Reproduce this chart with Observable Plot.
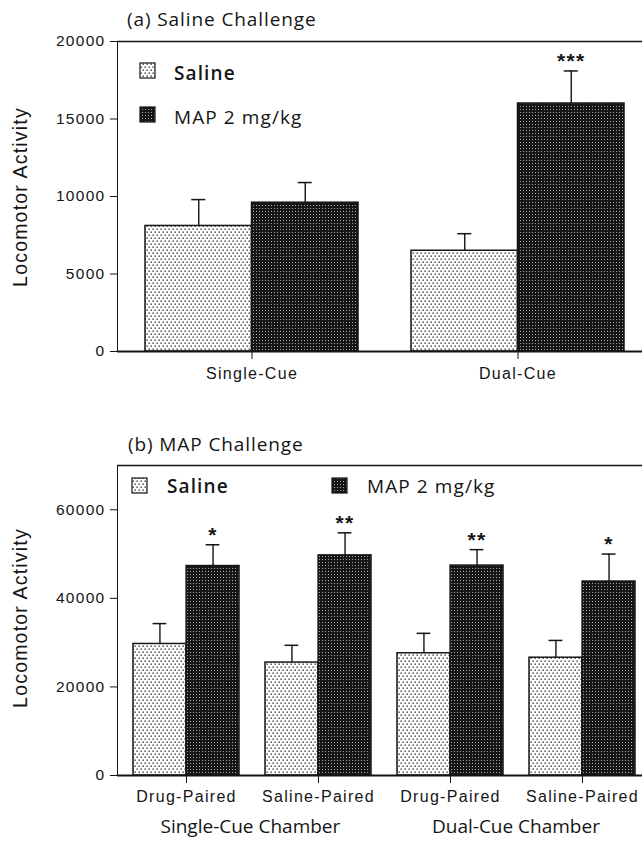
<!DOCTYPE html>
<html><head><meta charset="utf-8">
<script src="https://cdn.jsdelivr.net/npm/d3@7"></script>
<script src="https://cdn.jsdelivr.net/npm/@observablehq/plot@0.6"></script>
<style>
html,body{margin:0;padding:0;background:#fff;}
#wrap{position:relative;width:642px;height:845px;overflow:hidden;background:#fff;}
#wrap > svg{position:absolute;left:0;}
#wrap [aria-label^="x-axis"] text{font-size:16px;}
#wrap [aria-label^="y-axis"] text{font-size:15.5px;}
</style></head><body><div id="wrap"></div>
<script>
// ---------- Panel (a) Saline Challenge ----------
const aCategories = ["Single-Cue", "Dual-Cue"];
const aSaline = [8100, 6500];
const aSalineErr = [9800, 7600];
const aMap = [9600, 16000];
const aMapErr = [10900, 18100];
const aMapSig = ["", "***"];
const aTicks = [0, 5000, 10000, 15000, 20000];

// ---------- Panel (b) MAP Challenge ----------
const bKeys = ["S-Drug", "S-Saline", "D-Drug", "D-Saline"];
const bCategories = ["Drug-Paired", "Saline-Paired", "Drug-Paired", "Saline-Paired"];
const bChambers = ["Single-Cue Chamber", "Dual-Cue Chamber"];
const bSaline = [29700, 25500, 27600, 26600];
const bSalineErr = [34300, 29400, 32100, 30500];
const bMap = [47300, 49700, 47400, 43800];
const bMapErr = [52100, 54800, 51000, 50000];
const bMapSig = ["*", "**", "**", "*"];
const bTicks = [0, 20000, 40000, 60000];

const seriesNames = ["Saline", "MAP 2 mg/kg"];
const titles = ["(a) Saline Challenge", "(b) MAP Challenge"];
const yTitle = "Locomotor Activity";

const W = 642, ML = 117, MR = 0;
const wrap = document.getElementById("wrap");

function panel(o) {
  const xs = Plot.scale({x: {type: "band", domain: o.keys, range: [ML, W - MR],
    paddingInner: o.pi, paddingOuter: o.po, align: o.align}});
  const bw = xs.bandwidth, half = bw / 2, q = bw / 4, cap = 7;
  const sal = o.keys.map((k, i) => ({k, v: o.saline[i], e: o.salineErr[i]}));
  const mp = o.keys.map((k, i) => ({k, v: o.map[i], e: o.mapErr[i], s: o.sig[i]}));
  const fmt = new Map(o.keys.map((k, i) => [k, o.labels[i]]));
  const ink = "#151515";
  const chart = Plot.plot({
    width: W, height: o.height,
    marginLeft: ML, marginRight: MR, marginTop: o.marginTop, marginBottom: o.marginBottom,
    style: {background: "transparent", fontFamily: "'Liberation Sans', Arial, sans-serif",
      fontSize: "15px", color: ink, letterSpacing: "1.3px"},
    x: {type: "band", domain: o.keys, paddingInner: o.pi, paddingOuter: o.po, align: o.align,
      tickSize: 8, tickPadding: o.xPad, tickFormat: k => fmt.get(k), label: null},
    y: {domain: [0, o.yMax], ticks: o.ticks, tickFormat: d => String(d), tickSize: 7,
      tickPadding: 5, label: null, line: true},
    marks: [
      Plot.ruleY([o.yMax], {stroke: ink, strokeWidth: 1.6}),
      Plot.barY(sal, {x: "k", y: "v", insetRight: half, fill: "url(#patSaline)", stroke: ink, strokeWidth: 1.5}),
      Plot.barY(mp, {x: "k", y: "v", insetLeft: half, fill: "url(#patMap)", stroke: ink, strokeWidth: 1.5}),
      Plot.ruleX(sal, {x: "k", y1: "v", y2: "e", dx: -q, stroke: ink, strokeWidth: 1.4}),
      Plot.tickY(sal, {x: "k", y: "e", dx: -q, insetLeft: half - cap, insetRight: half - cap, stroke: ink, strokeWidth: 1.5}),
      Plot.ruleX(mp, {x: "k", y1: "v", y2: "e", dx: q, stroke: ink, strokeWidth: 1.4}),
      Plot.tickY(mp, {x: "k", y: "e", dx: q, insetLeft: half - cap, insetRight: half - cap, stroke: ink, strokeWidth: 1.5}),
      Plot.text(mp, {x: "k", y: "e", text: "s", dx: q, dy: -3, lineAnchor: "bottom", fontSize: 21,
        fontWeight: "bold", fill: ink}),
      Plot.ruleY([0], {stroke: ink, strokeWidth: 1.8})
    ]
  });
  chart.style.top = o.top + "px";
  wrap.appendChild(chart);
  return {xs, bw};
}

const A = panel({keys: aCategories, labels: aCategories, saline: aSaline, salineErr: aSalineErr,
  map: aMap, mapErr: aMapErr, sig: aMapSig, ticks: aTicks, yMax: 20000,
  top: 0, height: 392, marginTop: 41, marginBottom: 41, xPad: 8, pi: 0.2, po: 0.086, align: 0.6});

const B = panel({keys: bKeys, labels: bCategories, saline: bSaline, salineErr: bSalineErr,
  map: bMap, mapErr: bMapErr, sig: bMapSig, ticks: bTicks, yMax: 70000,
  top: 420, height: 390, marginTop: 45, marginBottom: 35, xPad: 7, pi: 0.2, po: 0.077, align: 0.68});

// ---------- overlay: patterns, titles, legends, axis titles ----------
const ov = d3.create("svg").attr("width", W).attr("height", 845)
  .style("top", "0px").style("pointer-events", "none");
const defs = ov.append("defs");
const p1 = defs.append("pattern").attr("id", "patSaline").attr("width", 4).attr("height", 6)
  .attr("patternUnits", "userSpaceOnUse");
p1.append("rect").attr("width", 4).attr("height", 6).attr("fill", "#fff");
p1.append("rect").attr("x", 0.5).attr("y", 0.5).attr("width", 1.3).attr("height", 1.3).attr("fill", "#1a1a1a");
p1.append("rect").attr("x", 2.5).attr("y", 3.5).attr("width", 1.3).attr("height", 1.3).attr("fill", "#1a1a1a");
const p2 = defs.append("pattern").attr("id", "patMap").attr("width", 3).attr("height", 3)
  .attr("patternUnits", "userSpaceOnUse");
p2.append("rect").attr("width", 3).attr("height", 3).attr("fill", "#161616");
p2.append("rect").attr("x", 1).attr("y", 1).attr("width", 1).attr("height", 1).attr("fill", "#a8a8a8");

const serif = "'Open Sans', sans-serif";
function txt(x, y, s, size, ls, anchor, weight) {
  return ov.append("text").attr("x", x).attr("y", y).text(s)
    .attr("font-family", serif).attr("font-size", size).attr("letter-spacing", ls)
    .attr("font-weight", weight || 500)
    .attr("text-anchor", anchor || "start").attr("fill", "#151515");
}
txt(127, 26, titles[0], 19, 0.9);
txt(128, 451, titles[1], 19, 0.9);

function key(x, y, pat) {
  ov.append("rect").attr("x", x).attr("y", y).attr("width", 15).attr("height", 15)
    .attr("fill", `url(#${pat})`).attr("stroke", "#151515").attr("stroke-width", 1.2);
}
key(140, 63, "patSaline"); txt(174, 80, seriesNames[0], 19, 1.1, "start", 600);
key(140, 107, "patMap");   txt(174, 124, seriesNames[1], 19, 1.1);
key(132, 478, "patSaline"); txt(167, 493, seriesNames[0], 19, 1.1, "start", 600);
key(332, 478, "patMap");    txt(367, 493, seriesNames[1], 19, 1.1);

[[197], [618]].forEach(([cy]) => {
  ov.append("text").attr("transform", `translate(27,${cy}) rotate(-90)`)
    .attr("text-anchor", "middle").attr("font-family", "'Liberation Sans', Arial, sans-serif")
    .attr("font-size", 19.5).attr("letter-spacing", 1.2).attr("fill", "#151515").text(yTitle);
});

bChambers.forEach((c, j) => {
  const cx = (B.xs.apply(bKeys[2 * j]) + B.xs.apply(bKeys[2 * j + 1])) / 2 + B.bw / 2;
  txt(cx, 833, c, 19, 0, "middle");
});

wrap.insertBefore(ov.node(), wrap.firstChild);
</script></body></html>
